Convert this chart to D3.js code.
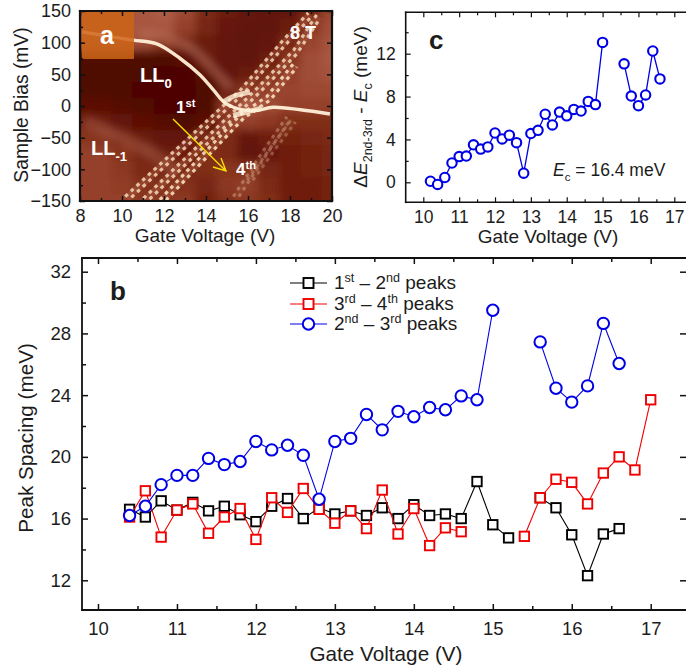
<!DOCTYPE html>
<html>
<head>
<meta charset="utf-8">
<script src="https://cdn.jsdelivr.net/npm/d3@7"></script>
<style>
    html, body { margin: 0; padding: 0; background: #fff; overflow: hidden; }
    svg { display: block; }
    text { font-family: "Liberation Sans", Arial, sans-serif; fill: #1c1c1c; }
    .domain { display: none; }
    .white text, text.white { fill: #fff; font-weight: bold; }
</style>
</head>
<body>
<svg id="drawing_region" width="686" height="672"></svg>
<script>
// panel b
const gateB = [10.4,10.6,10.8,11,11.2,11.4,11.6,11.8,12,12.2,12.4,12.6,12.8,13,13.2,13.4,13.6,13.8,14,14.2,14.4,14.6,14.8,15,15.2,15.4,15.6,15.8,16,16.2,16.4,16.6,16.8,17];
const peaks12 = [16.6,16.1,17.15,16.55,17.05,16.5,16.8,16.25,15.8,16.8,17.3,16.0,16.7,16.3,16.5,16.2,16.7,16.0,16.9,16.2,16.3,16.0,18.4,15.6,14.75,null,17.35,16.7,14.95,12.3,15.0,15.35,null,null];
const peaks34 = [16.1,17.8,14.8,16.55,16.95,15.05,16.1,16.65,14.65,17.35,16.4,17.95,16.6,15.7,16.5,15.35,17.85,15.0,16.65,14.25,15.4,15.15,null,null,null,14.85,17.35,18.55,18.35,16.95,18.95,20.0,19.15,23.7];
const peaks23 = [16.2,16.8,18.2,18.8,18.8,19.9,19.5,19.7,21.0,20.45,20.75,20.1,17.25,21.0,21.2,22.75,21.75,22.95,22.6,23.2,23.05,23.95,23.7,29.5,null,null,27.45,24.45,23.55,24.6,28.65,26.05,null,null];

// panel c
const gateC = [10.2,10.4,10.6,10.8,11,11.2,11.4,11.6,11.8,12,12.2,12.4,12.6,12.8,13,13.2,13.4,13.6,13.8,14,14.2,14.4,14.6,14.8,15,15.2,15.4,15.6,15.8,16,16.2,16.4,16.6];
const deltaE = [0.1,-0.2,0.45,1.8,2.4,2.45,3.5,3.1,3.3,4.6,4.05,4.4,3.7,0.85,4.55,4.85,6.35,5.35,6.55,6.2,6.8,6.65,7.55,7.25,13.05,null,null,11.05,8.05,7.15,8.15,12.25,9.65];

// panel a, background read on a coarse grid, then peak traces
const mapGate = [8,9,10,11,12,13,14,15,16,17,18,19,20];
const mapBias = [150,125,100,75,50,25,0,-25,-50,-75,-100,-125,-150];
const mapLevel = [
    [.50,.50,.50,.50,.52,.44,.28,.20,.16,.14,.16,.28,.42],
    [.50,.50,.50,.50,.50,.40,.26,.18,.14,.14,.20,.36,.46],
    [.50,.50,.50,.45,.36,.28,.20,.15,.13,.15,.28,.42,.48],
    [.04,.04,.04,.03,.03,.10,.20,.15,.14,.20,.34,.46,.50],
    [.03,.03,.03,.03,.02,.02,.10,.16,.20,.30,.40,.46,.48],
    [.03,.03,.03,.02,.02,.02,.03,.20,.36,.40,.42,.44,.44],
    [.10,.10,.06,.04,.02,.02,.03,.36,.50,.45,.40,.40,.40],
    [.25,.22,.15,.10,.06,.03,.10,.35,.40,.36,.30,.30,.30],
    [.34,.32,.25,.20,.15,.16,.28,.28,.18,.22,.24,.26,.28],
    [.40,.40,.34,.26,.20,.22,.30,.28,.14,.18,.22,.24,.26],
    [.40,.40,.36,.28,.26,.28,.30,.34,.34,.26,.22,.24,.26],
    [.40,.40,.38,.32,.32,.32,.26,.36,.38,.28,.22,.22,.24],
    [.40,.40,.40,.36,.36,.36,.24,.32,.36,.30,.22,.22,.24]
];
const ll0Trace = [[8.1,117],[9.43,109.5],[10.54,104],[11.66,98],[12.77,75],[13.72,49],[14.36,25],[14.83,7],[15.3,-2],[16.27,-7.4],[17.2,-2],[18.5,-6],[19.9,-12.6]];
const ll0Shadow = [[10.8,113],[12.2,107],[13.4,88],[14.5,52],[15.2,28]];
const ll1Ridge = [[8.25,-25],[9.6,-45],[11.6,-78],[12.6,-105]];
const crossBlobs = [
    [[14.8,6],[15.3,15],[16.1,22]],
    [[15.3,-15],[16,-9],[16.6,-4]]
];
const peakTraces = [
    [[10.15,-143],[14.52,-9],[15.63,25],[17.54,99],[18.87,147]],
    [[11.02,-146],[15.15,-14],[16.58,33],[18.17,88],[19.27,144]],
    [[11.8,-148],[15.63,-14],[16.9,15],[18.17,67]],
    [[15.3,-143],[16.74,-70],[17.85,-17]],
    [[15.96,-117],[17.2,-60],[18.1,-20]]
];
const peakOpacity = [.78,.78,.85,.3,.26];

const svg = d3.select('#drawing_region');

const defs = svg.append('defs');
defs.append('filter').attr('id', 'soft')
    .attr('x', '-10%').attr('y', '-10%').attr('width', '120%').attr('height', '120%')
    .append('feGaussianBlur').attr('stdDeviation', 4);
defs.append('filter').attr('id', 'softer')
    .append('feGaussianBlur').attr('stdDeviation', 0.7);
defs.append('clipPath').attr('id', 'clip_a').append('rect')
    .attr('x', 80).attr('y', 11).attr('width', 252).attr('height', 190);

function drawAxes( g, x, y, opt ) {
    const b = { l: x.range()[0], r: x.range()[1], t: y.range()[1], bot: y.range()[0] };
    const len = opt.tick, minor = opt.minor;

    g.append('g').attr('transform', `translate(0,${b.bot})`)
        .call( d3.axisBottom(x).tickValues(opt.xticks).tickSizeInner(-len).tickSizeOuter(0).tickPadding(len + opt.xpad) );
    g.append('g').attr('transform', `translate(0,${b.bot})`)
        .call( d3.axisBottom(x).tickValues(opt.xminor).tickSizeInner(-minor).tickSizeOuter(0).tickFormat('') );
    g.append('g').attr('transform', `translate(${b.l},0)`)
        .call( d3.axisLeft(y).tickValues(opt.yticks).tickSizeInner(-len).tickSizeOuter(0).tickPadding(len + opt.ypad) );
    g.append('g').attr('transform', `translate(${b.l},0)`)
        .call( d3.axisLeft(y).tickValues(opt.yminor).tickSizeInner(-minor).tickSizeOuter(0).tickFormat('') );

    g.append('g').attr('transform', `translate(0,${b.t})`)
        .call( d3.axisTop(x).tickValues(opt.xticks).tickSizeInner(-len).tickSizeOuter(0).tickFormat('') );
    g.append('g').attr('transform', `translate(0,${b.t})`)
        .call( d3.axisTop(x).tickValues(opt.xminor).tickSizeInner(-minor).tickSizeOuter(0).tickFormat('') );
    if ( opt.rightTicks ) {
        g.append('g').attr('transform', `translate(${b.r},0)`)
            .call( d3.axisRight(y).tickValues(opt.yticks).tickSizeInner(-len).tickSizeOuter(0).tickFormat('') );
    }

    g.selectAll('.tick line').attr('stroke', '#111').attr('stroke-width', opt.width);
    g.selectAll('.tick text').attr('font-size', opt.font + 'px').attr('fill', '#1c1c1c');

    // frame
    const frame = opt.sides.map( s => ({
        t: [b.l, b.t, b.r, b.t], b: [b.l, b.bot, b.r, b.bot],
        l: [b.l, b.t, b.l, b.bot], r: [b.r, b.t, b.r, b.bot]
    })[s] );
    g.selectAll('line.frame').data(frame).enter().append('line')
        .attr('class', 'frame')
        .attr('x1', d => d[0]).attr('y1', d => d[1]).attr('x2', d => d[2]).attr('y2', d => d[3])
        .attr('stroke', '#111').attr('stroke-width', opt.frame).attr('stroke-linecap', 'square');
}

function drawSeries( g, x, y, xs, ys, color, shape, opt ) {
    const rows = xs.map( (v, i) => ({ x: v, y: ys[i] }) );
    const line = d3.line().defined( d => d.y !== null ).x( d => x(d.x) ).y( d => y(d.y) );
    g.append('path').attr('d', line(rows))
        .attr('fill', 'none').attr('stroke', color).attr('stroke-width', opt.line);
    const pts = rows.filter( d => d.y !== null );
    if ( shape === 'circle' ) {
        g.selectAll(null).data(pts).enter().append('circle')
            .attr('cx', d => x(d.x)).attr('cy', d => y(d.y)).attr('r', opt.size)
            .attr('fill', '#fff').attr('stroke', color).attr('stroke-width', opt.stroke);
    } else {
        g.selectAll(null).data(pts).enter().append('rect')
            .attr('x', d => x(d.x) - opt.size).attr('y', d => y(d.y) - opt.size)
            .attr('width', opt.size * 2).attr('height', opt.size * 2)
            .attr('fill', '#fff').attr('stroke', color).attr('stroke-width', opt.stroke);
    }
}

// small helper for text with sub/superscripts, parts are [string, 'sup'|'sub'|'it'|null]
function richText( g, x, y, size, parts, attrs ) {
    const t = g.append('text').attr('x', x).attr('y', y).attr('font-size', size + 'px');
    Object.entries(attrs || {}).forEach( ([k, v]) => t.attr(k, v) );
    let shift = 0;
    parts.forEach( p => {
        const s = t.append('tspan').text(p[0]);
        const want = p[1] === 'sup' ? -size * 0.38 : p[1] === 'sub' ? size * 0.28 : 0;
        s.attr('dy', want - shift);
        shift = want;
        if ( p[1] === 'sup' || p[1] === 'sub' ) s.attr('font-size', (size * 0.66) + 'px');
        if ( p[1] === 'it' ) s.attr('font-style', 'italic');
    });
    return t;
}

// ---- panel a
const ax = d3.scaleLinear().domain([8, 20]).range([80, 332]);
const ay = d3.scaleLinear().domain([-150, 150]).range([201, 11]);
const levelColor = d3.scaleLinear()
    .domain([0, .2, .35, .5, .8, 1])
    .range(['#4a0400', '#6b1a0a', '#8a3620', '#a85640', '#e6b498', '#fff3dc']);

const panelA = svg.append('g');
panelA.append('rect').attr('x', 80).attr('y', 11).attr('width', 252).attr('height', 190).attr('fill', levelColor(.3));

const heat = panelA.append('g').attr('clip-path', 'url(#clip_a)');
const heatBlur = heat.append('g').attr('filter', 'url(#soft)');
const cellW = Math.abs(ax(9) - ax(8)), cellH = Math.abs(ay(0) - ay(25));
mapBias.forEach( (b, r) => {
    heatBlur.selectAll(null).data(mapGate).enter().append('rect')
        .attr('x', d => ax(d) - cellW / 2 - (d === 8 ? cellW : 0))
        .attr('y', ay(b) - cellH / 2 - (r === 0 ? cellH : 0))
        .attr('width', d => cellW + (d === 8 || d === 20 ? cellW : 0) + 0.5)
        .attr('height', cellH + (r === 0 || r === 12 ? cellH : 0) + 0.5)
        .attr('fill', (d, i) => levelColor(mapLevel[r][i]));
});

const traceLine = d3.line().x( d => ax(d[0]) ).y( d => ay(d[1]) );
const curveLine = d3.line().curve(d3.curveCatmullRom).x( d => ax(d[0]) ).y( d => ay(d[1]) );

heatBlur.append('path').attr('d', curveLine(ll1Ridge))
    .attr('fill', 'none').attr('stroke', '#c8806a').attr('stroke-width', 11).attr('opacity', .35);
heatBlur.append('path').attr('d', curveLine(ll0Shadow))
    .attr('fill', 'none').attr('stroke', '#c8806a').attr('stroke-width', 6).attr('opacity', .6);

const traces = heat.append('g').attr('filter', 'url(#softer)');
peakTraces.forEach( (tr, i) => {
    // warm glow under each band
    traces.append('path').attr('d', traceLine(tr)).attr('transform', 'translate(1.7,1.7)')
        .attr('fill', 'none').attr('stroke', '#b86a4c').attr('stroke-width', 7).attr('opacity', peakOpacity[i] * .4);
    // two rows of dots, out of step, give the checker look
    traces.append('path').attr('d', traceLine(tr))
        .attr('fill', 'none').attr('stroke', '#fde6c8').attr('stroke-width', 3.2)
        .attr('stroke-dasharray', '3.6 4.2').attr('opacity', peakOpacity[i]);
    traces.append('path').attr('d', traceLine(tr)).attr('transform', 'translate(3.4,3.4)')
        .attr('fill', 'none').attr('stroke', '#fde6c8').attr('stroke-width', 3.2)
        .attr('stroke-dasharray', '3.6 4.2').attr('stroke-dashoffset', 3.9).attr('opacity', peakOpacity[i]);
});
crossBlobs.forEach( tr => {
    traces.append('path').attr('d', curveLine(tr))
        .attr('fill', 'none').attr('stroke', '#fff0d8').attr('stroke-width', 5).attr('opacity', .8);
});
traces.append('path').attr('d', curveLine(ll0Trace))
    .attr('fill', 'none').attr('stroke', '#fff0d8').attr('stroke-width', 3.4).attr('opacity', .95);

heat.append('rect').attr('x', 82).attr('y', 11).attr('width', 52).attr('height', 48)
    .attr('fill', '#cc6418').attr('opacity', .85);

drawAxes( panelA, ax, ay, {
    xticks: [8,10,12,14,16,18,20], xminor: [9,11,13,15,17,19],
    yticks: [-150,-100,-50,0,50,100,150], yminor: [-125,-75,-25,25,75,125],
    tick: 5, minor: 3, width: 1.5, frame: 2.2, font: 18, xpad: 3, ypad: 4, sides: ['t','b','l','r'], rightTicks: true
});

panelA.append('text').attr('class', 'white').attr('x', 100).attr('y', 44).attr('font-size', '25px').text('a');
panelA.append('text').attr('class', 'white').attr('x', 290).attr('y', 39).attr('font-size', '18px').text('8 T');
richText( panelA, 140, 82, 20, [['LL'], ['0', 'sub']], { class: 'white' } );
richText( panelA, 91, 155, 20, [['LL'], ['-1', 'sub']], { class: 'white' } );
richText( panelA, 176, 113, 17, [['1'], ['st', 'sup']], { class: 'white' } );
richText( panelA, 236, 175, 17, [['4'], ['th', 'sup']], { class: 'white' } );

// arrow
panelA.append('path').attr('d', 'M173,119 L226,171 M213,167 L226,171 L221,158')
    .attr('fill', 'none').attr('stroke', '#f5e000').attr('stroke-width', 1.4);

panelA.append('text').attr('x', 205).attr('y', 242).attr('text-anchor', 'middle').attr('font-size', '19px').text('Gate Voltage (V)');
panelA.append('text').attr('transform', 'translate(28,105) rotate(-90)').attr('text-anchor', 'middle').attr('font-size', '19.3px').text('Sample Bias (mV)');

// ---- panel c
const cx = d3.scaleLinear().domain([10 - (423.3 - 405.7) / 35.86, 17 + (686 - 674.3) / 35.86]).range([405.7, 686]);
const cy = d3.scaleLinear().domain([0 - (202.3 - 182.3) / 10.72, 12 + (53.7 - 12.3) / 10.72]).range([202.3, 12.3]);

const panelC = svg.append('g');
drawAxes( panelC, cx, cy, {
    xticks: [10,11,12,13,14,15,16,17], xminor: [10.5,11.5,12.5,13.5,14.5,15.5,16.5],
    yticks: [0,4,8,12], yminor: [2,6,10,14],
    tick: 5, minor: 3, width: 1.2, frame: 1.6, font: 17.5, xpad: 3, ypad: 5, sides: ['t','b','l']
});
drawSeries( panelC, cx, cy, gateC, deltaE, '#0000e6', 'circle', { line: 1.3, size: 4.7, stroke: 2.1 } );

panelC.append('text').attr('x', 429).attr('y', 49).attr('font-size', '26px').attr('font-weight', 'bold').text('c');
richText( panelC, 553, 176, 17.5, [['E', 'it'], ['c', 'sub'], [' = 16.4 meV']] );
panelC.append('text').attr('x', 548).attr('y', 243).attr('text-anchor', 'middle').attr('font-size', '19px').text('Gate Voltage (V)');
richText( panelC, 0, 0, 19, [['\u0394'], ['E', 'it'], ['2nd-3rd', 'sub'], [' - '], ['E', 'it'], ['c', 'sub'], [' (meV)']],
    { transform: 'translate(367,107) rotate(-90)', 'text-anchor': 'middle' } );

// ---- panel b
const bx = d3.scaleLinear().domain([10 - 16 / 79, 17 + 35.3 / 79]).range([82, 686]);
const by = d3.scaleLinear().domain([12 - 29.7 / 15.43, 32 + 13.7 / 15.43]).range([610, 258]);

const panelB = svg.append('g');
drawAxes( panelB, bx, by, {
    xticks: [10,11,12,13,14,15,16,17], xminor: [10.5,11.5,12.5,13.5,14.5,15.5,16.5],
    yticks: [12,16,20,24,28,32], yminor: [14,18,22,26,30],
    tick: 6, minor: 4, width: 1.5, frame: 1.8, font: 18.5, xpad: 6, ypad: 5, sides: ['t','b','l'], rightTicks: true
});
const markOpt = { line: 1.1, size: 4.7, stroke: 1.9 };
drawSeries( panelB, bx, by, gateB, peaks12, '#000', 'square', markOpt );
drawSeries( panelB, bx, by, gateB, peaks34, '#f00000', 'square', markOpt );
drawSeries( panelB, bx, by, gateB, peaks23, '#0000e6', 'circle', { line: 1.1, size: 5.7, stroke: 2 } );

panelB.append('text').attr('x', 110).attr('y', 300).attr('font-size', '26px').attr('font-weight', 'bold').text('b');
panelB.append('text').attr('x', 386).attr('y', 661).attr('text-anchor', 'middle').attr('font-size', '20.7px').text('Gate Voltage (V)');
panelB.append('text').attr('transform', 'translate(33,438) rotate(-90)').attr('text-anchor', 'middle').attr('font-size', '20.7px').text('Peak Spacing (meV)');

// legend
const legendRows = [
    { color: '#000', shape: 'square', y: 283, parts: [['1'], ['st','sup'], [' \u2013 2'], ['nd','sup'], [' peaks']] },
    { color: '#f00000', shape: 'square', y: 304, parts: [['3'], ['rd','sup'], [' \u2013 4'], ['th','sup'], [' peaks']] },
    { color: '#0000e6', shape: 'circle', y: 324, parts: [['2'], ['nd','sup'], [' \u2013 3'], ['rd','sup'], [' peaks']] }
];
legendRows.forEach( d => {
    panelB.append('line').attr('x1', 290).attr('x2', 327).attr('y1', d.y).attr('y2', d.y)
        .attr('stroke', d.color).attr('stroke-width', 1.1);
    if ( d.shape === 'circle' ) {
        panelB.append('circle').attr('cx', 308.5).attr('cy', d.y).attr('r', 5.7)
            .attr('fill', '#fff').attr('stroke', d.color).attr('stroke-width', 2);
    } else {
        panelB.append('rect').attr('x', 303.5).attr('y', d.y - 5).attr('width', 10).attr('height', 10)
            .attr('fill', '#fff').attr('stroke', d.color).attr('stroke-width', 1.9);
    }
    richText( panelB, 334, d.y + 6, 19, d.parts );
});
</script>
</body>
</html>
